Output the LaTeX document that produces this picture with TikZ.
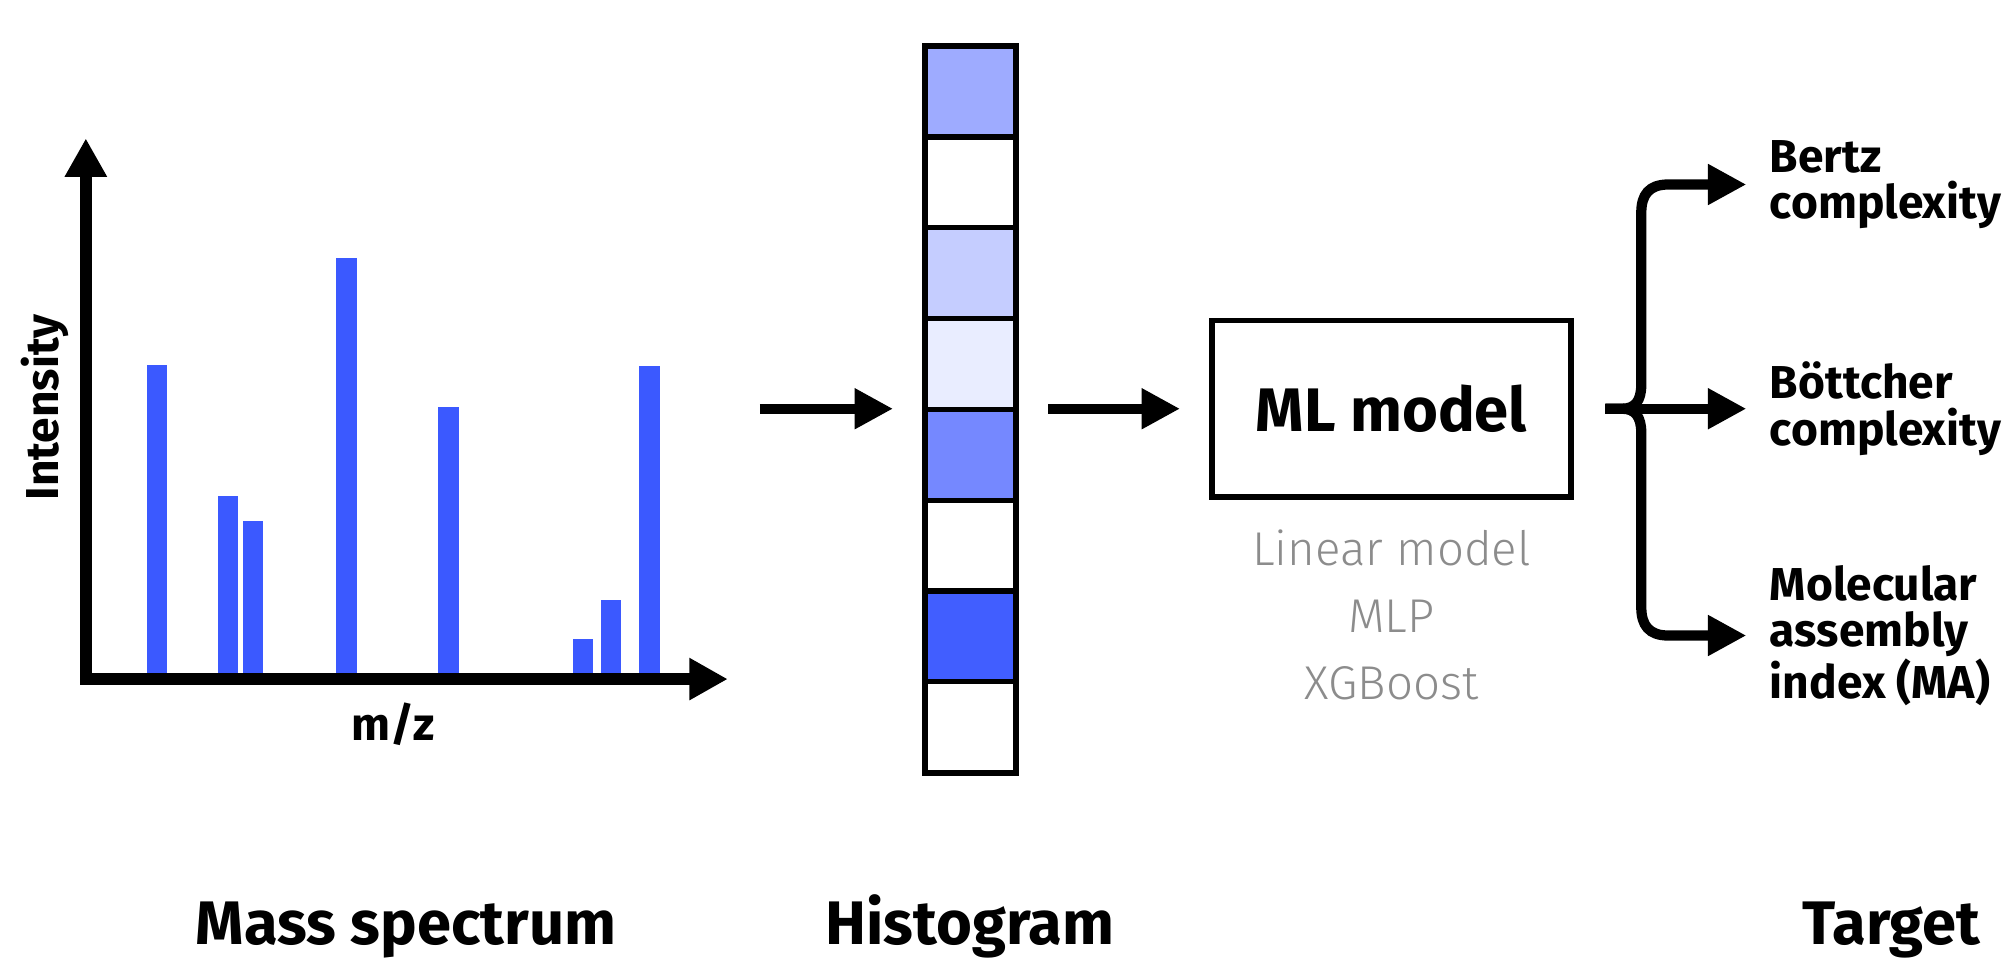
\documentclass[tikz,border=0pt]{standalone}
\usepackage{fontspec}
\setmainfont{Fira Sans}
\newfontfamily\lightfont{Fira Sans Light}
\usetikzlibrary{arrows.meta}
\definecolor{barblue}{RGB}{59,89,255}
\definecolor{hA}{RGB}{158,171,255}
\definecolor{hB}{RGB}{197,205,255}
\definecolor{hC}{RGB}{233,237,255}
\definecolor{hD}{RGB}{117,136,255}
\definecolor{hE}{RGB}{65,94,255}
\definecolor{txtgray}{RGB}{140,140,140}
\tikzset{
  bigarrow/.style={line width=4pt, -{Triangle[length=15pt,width=15pt]}},
  axisline/.style={line width=4.5pt, line join=miter, {Triangle[length=15pt,width=15.5pt]}-{Triangle[length=15pt,width=15.5pt]}},
  bracearrow/.style={line width=4pt, -{Triangle[length=15pt,width=15pt]}},
  titletext/.style={font=\fontsize{24}{28}\selectfont\bfseries, anchor=base, inner sep=0pt},
  axislabel/.style={font=\fontsize{18}{22}\selectfont\bfseries, inner sep=0pt},
  targettext/.style={font=\fontsize{18}{18}\selectfont\bfseries, align=left, anchor=west, inner sep=0pt},
  graytext/.style={font=\fontsize{18.5}{22}\lightfont, text=txtgray, anchor=base, inner sep=0pt},
  mlbox/.style={draw, line width=2.2pt, minimum width=140pt, minimum height=69pt, font=\fontsize{24}{28}\selectfont\bfseries},
  histbox/.style={draw, line width=2.4pt, minimum width=35.5pt, minimum height=283.5pt, inner sep=0pt}
}
\begin{document}
\begin{tikzpicture}[x=0.5pt,y=-0.5pt]
\useasboundingbox (0,0) rectangle (1568,750);
\fill[white] (0,0) rectangle (1568,750);

% spectrum bars
\foreach \l/\r/\t in {115/130.5/285, 170.5/186/387, 189.5/205.5/407, 262.5/278.5/201.5, 342/358/318, 447.5/463/499, 469/484.5/468.5, 499/515/286}
  \fill[barblue] (\l,530) rectangle (\r,\t);
% axes
\draw[axisline] (67,108) -- (67,530) -- (568,530);
\node[axislabel, rotate=90, anchor=base] (ylab) at (46,318) {Intensity};
\node[axislabel, anchor=base] (xlab) at (307,578) {m/z};

% histogram cells
\foreach \i/\c in {0/hA,1/white,2/hB,3/hC,4/hD,5/white,6/hE,7/white}
  \fill[\c] (722,36+\i*70.875) rectangle (793,36+\i*70.875+70.875);
\foreach \k in {1,...,7}
  \draw[line width=2pt] (722,36+\k*70.875) -- (793,36+\k*70.875);
\node[histbox] (hist) at (757.5,319.5) {};

% ML model
\node[mlbox] (ml) at (1086,319) {ML model};
\node[graytext] (g1) at (1086,441) {Linear model};
\node[graytext] (g2) at (1086,494) {MLP};
\node[graytext] (g3) at (1086,546) {XGBoost};

% arrows
\coordinate (a1s) at (593,319);
\draw[bigarrow, shorten >=11.3pt] (a1s) -- (hist.west |- a1s);
\draw[bigarrow, shorten <=11.3pt, shorten >=11.4pt] (hist.east |- ml.west) -- (ml.west);

% targets
\node[targettext] (t1) at (1381,144) {Bertz\\complexity};
\node[targettext] (t2) at (1381,319) {Böttcher\\complexity};
\node[targettext] (t3) at (1381,496) {Molecular\\assembly\\index (MA)};

% brace
\draw[bracearrow, shorten <=12.4pt, shorten >=9pt] (ml.east) -- (1266,319) .. controls (1276,319) and (1281,313) .. (1281,300) -- (1281,166) .. controls (1281,152) and (1287,144) .. (1302,144) -- (t1.west);
\draw[bracearrow, shorten <=12.4pt, shorten >=9pt] (ml.east) -- (1266,319) .. controls (1276,319) and (1281,325) .. (1281,338) -- (1281,474) .. controls (1281,488) and (1287,496) .. (1302,496) -- (t3.west);
\draw[bracearrow, shorten <=12.4pt, shorten >=9pt] (ml.east) -- (t2.west);

% titles
\node[titletext] (s1) at (317,737) {Mass spectrum};
\node[titletext] (s2) at (757,737) {Histogram};
\node[titletext] (s3) at (1476,737) {Target};
\end{tikzpicture}
\end{document}
